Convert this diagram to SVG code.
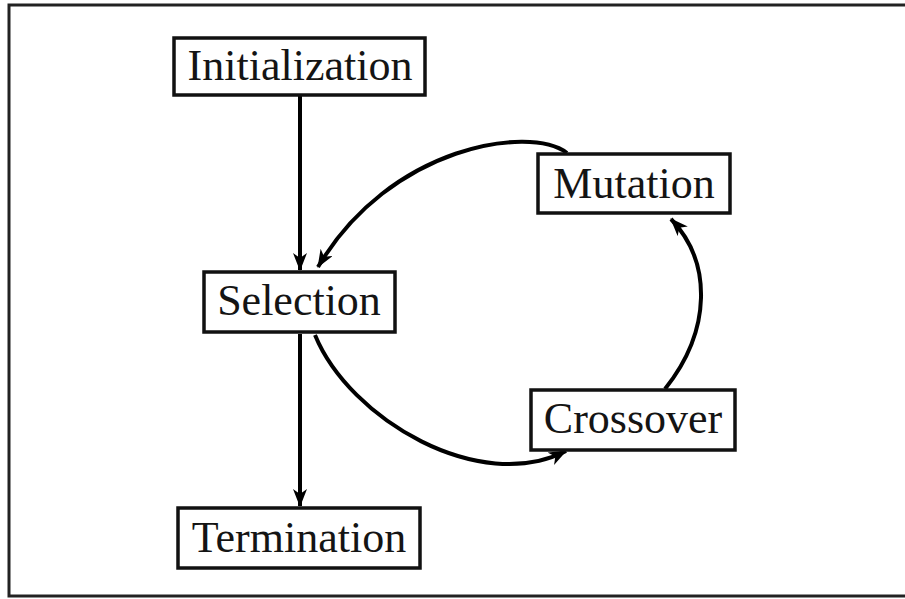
<svg xmlns="http://www.w3.org/2000/svg" width="905" height="599" viewBox="0 0 905 599">
  <style>
    .box { fill: #ffffff; stroke: #111111; stroke-width: 3.5; }
    .label { font-family: "Liberation Serif", "Times New Roman", serif; font-size: 44px; fill: #141414; text-anchor: middle; }
    .edge { fill: none; stroke: #000000; stroke-width: 4; marker-end: url(#arrow); }
    .frame { fill: #ffffff; stroke: #222222; stroke-width: 3; }
  </style>
  <defs>
    <marker id="arrow" viewBox="0 0 18 14" refX="17" refY="7" markerWidth="18" markerHeight="14" markerUnits="userSpaceOnUse" orient="auto">
      <path d="M0,0 L18,7 L0,14 L5,7 Z" fill="#000000"/>
    </marker>
  </defs>

  <rect class="frame" x="9" y="5" width="905" height="591"/>

  <g id="connectors">
    <path class="edge" d="M300,96 L300,270"/>
    <path class="edge" d="M300,334 L300,506"/>
    <path class="edge" d="M567,153 C530,125 390,145 318,267"/>
    <path class="edge" d="M315,335 C350,420 480,495 566,451"/>
    <path class="edge" d="M665,389 C712,330 712,262 671,219"/>
  </g>

  <g id="initialization">
    <rect class="box" x="174" y="38" width="251" height="57"/>
    <text class="label" x="300" y="80">Initialization</text>
  </g>
  <g id="selection">
    <rect class="box" x="204" y="272" width="191" height="60"/>
    <text class="label" x="299" y="315">Selection</text>
  </g>
  <g id="mutation">
    <rect class="box" x="538" y="154" width="192" height="59"/>
    <text class="label" x="634" y="198">Mutation</text>
  </g>
  <g id="crossover">
    <rect class="box" x="531" y="390" width="204" height="60"/>
    <text class="label" x="633" y="433">Crossover</text>
  </g>
  <g id="termination">
    <rect class="box" x="178" y="508" width="242" height="60"/>
    <text class="label" x="299" y="552">Termination</text>
  </g>
</svg>
